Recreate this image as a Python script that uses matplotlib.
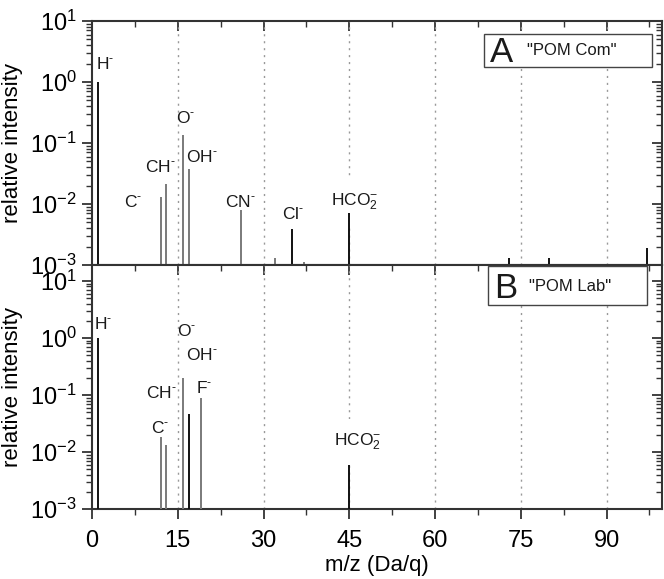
import matplotlib
matplotlib.use("Agg")
import matplotlib.pyplot as plt
from matplotlib.ticker import LogLocator, LogFormatterMathtext, MultipleLocator, NullFormatter
from matplotlib.patches import Rectangle

plt.rcParams['font.family'] = ['Liberation Sans', 'DejaVu Sans']
plt.rcParams['mathtext.default'] = 'regular'
plt.rcParams['mathtext.fontset'] = 'custom'
plt.rcParams['mathtext.rm'] = 'Liberation Sans'

# ---- data ----
com_mz = [1, 12, 13, 16, 17, 26, 32, 35, 37, 45, 73, 80, 97]
com_int = [1.0, 0.013, 0.021, 0.135, 0.037, 0.0079, 0.0013, 0.0039, 0.0011, 0.0071, 0.0013, 0.0013, 0.0019]
com_col = ['k', 'gray', 'gray', 'gray', 'gray', 'gray', 'gray', 'k', 'gray', 'k', 'k', 'k', 'k']

lab_mz = [1, 12, 13, 16, 17, 19, 45]
lab_int = [1.0, 0.018, 0.0135, 0.2, 0.046, 0.087, 0.006]
lab_col = ['k', 'gray', 'gray', 'gray', 'k', 'gray', 'k']

SUP = r'$^{\text{-}}$'
HCO2 = r'HCO$_{2}^{-}$'
com_labels = [('H' + SUP, 0.7, 2.0, 'left'), ('C' + SUP, 7.2, 0.0107, 'center'),
              ('CH' + SUP, 11.9, 0.041, 'center'), ('O' + SUP, 16.3, 0.26, 'center'),
              ('OH' + SUP, 19.3, 0.059, 'center'), ('CN' + SUP, 25.9, 0.0107, 'center'),
              ('Cl' + SUP, 35.2, 0.0069, 'center')]
com_hco2 = (HCO2, 46.0, 0.011)

lab_labels = [('H' + SUP, 0.3, 1.78, 'left'), ('O' + SUP, 16.5, 1.3, 'center'),
              ('OH' + SUP, 19.3, 0.51, 'center'), ('CH' + SUP, 12.1, 0.11, 'center'),
              ('F' + SUP, 19.7, 0.13, 'center'), ('C' + SUP, 11.9, 0.026, 'center')]
lab_hco2 = (HCO2, 46.5, 0.015)

grid_x = [15, 30, 45, 60, 75, 90]
xticks = [0, 15, 30, 45, 60, 75, 90]

W, H = 664, 579
fig = plt.figure(figsize=(W / 100, H / 100), dpi=100)
left = 92 / W
width = (662 - 92) / W
h = 244 / H
ax1 = fig.add_axes([left, 1 - 265 / H, width, h])
ax2 = fig.add_axes([left, 1 - 509 / H, width, h])

spine_col = '#333333'
gray = '#7a7a7a'

def style(ax, ylim, labelx):
    ax.set_yscale('log')
    ax.set_xlim(0, 99.7)
    ax.set_ylim(*ylim)
    for s in ax.spines.values():
        s.set_color(spine_col)
        s.set_linewidth(1.5)
    ax.set_xticks(xticks)
    ax.xaxis.set_minor_locator(MultipleLocator(7.5))
    ax.yaxis.set_major_locator(LogLocator(base=10, numticks=10))
    ax.yaxis.set_major_formatter(LogFormatterMathtext())
    ax.yaxis.set_minor_locator(LogLocator(base=10, subs=range(2, 10), numticks=20))
    ax.yaxis.set_minor_formatter(NullFormatter())
    ax.tick_params(axis='both', which='major', direction='out', length=7, width=1.3,
                   color=spine_col, labelsize=17, pad=4)
    ax.tick_params(axis='both', which='minor', direction='out', length=4, width=1.0,
                   color=spine_col)
    ax.tick_params(axis='x', labelbottom=labelx, pad=8)
    ax.set_ylabel('relative intensity', fontsize=16, labelpad=5)
    sx = ax.secondary_xaxis('top')
    sx.set_xticks(xticks)
    sx.xaxis.set_minor_locator(MultipleLocator(7.5))
    sx.tick_params(which='major', direction='in', length=7, width=1.3, color=spine_col, labeltop=False)
    sx.tick_params(which='minor', direction='in', length=4, width=1.0, color=spine_col)
    sx.spines['top'].set_visible(False)
    sy = ax.secondary_yaxis('right')
    sy.yaxis.set_major_locator(LogLocator(base=10, numticks=10))
    sy.yaxis.set_minor_locator(LogLocator(base=10, subs=range(2, 10), numticks=20))
    sy.yaxis.set_minor_formatter(NullFormatter())
    sy.tick_params(which='major', direction='in', length=7, width=1.3, color=spine_col, labelright=False)
    sy.tick_params(which='minor', direction='in', length=4, width=1.0, color=spine_col)
    sy.spines['right'].set_visible(False)
    for gx in grid_x:
        ax.axvline(gx, color='#999999', linestyle=(0, (1.5, 3.5)), linewidth=1.0, zorder=1)

style(ax1, (1e-3, 10), False)
style(ax2, (1e-3, 10 ** 1.28), True)
ax2.set_xlabel('m/z (Da/q)', fontsize=16, labelpad=2)

for ax, mz, vals, cols in [(ax1, com_mz, com_int, com_col), (ax2, lab_mz, lab_int, lab_col)]:
    colors = ['#111111' if c == 'k' else gray for c in cols]
    ax.vlines(mz, 1e-3, vals, colors=colors, linewidth=1.4, zorder=4)

for ax, labels, hco2 in [(ax1, com_labels, com_hco2), (ax2, lab_labels, lab_hco2)]:
    for t, x, y, ha in labels:
        ax.text(x, y, t, fontsize=12.5, ha=ha, va='center', color='#1a1a1a', zorder=5)
    t, x, y = hco2
    ax.text(x, y, t, fontsize=12.5, ha='center', va='center', color='#1a1a1a', zorder=3,
            bbox=dict(facecolor='white', edgecolor='none', pad=9))

for ax, (x0, y0, x1, y1), letter, lx, ly, name, nx in [
        (ax1, (0.688, 0.811, 0.982, 0.947), 'A', 0.719, 0.872, '"POM Com"', 0.763),
        (ax2, (0.695, 0.836, 0.974, 0.996), 'B', 0.725, 0.905, '"POM Lab"', 0.767)]:
    ax.add_patch(Rectangle((x0, y0), x1 - x0, y1 - y0, transform=ax.transAxes,
                           facecolor='white', edgecolor='#444444', linewidth=1.0, zorder=6))
    ax.text(lx, ly, letter, transform=ax.transAxes, fontsize=25, ha='center', va='center',
            color='#1a1a1a', zorder=7)
    ax.text(nx, ly + 0.008, name, transform=ax.transAxes, fontsize=12, ha='left', va='center',
            color='#1a1a1a', zorder=7)

fig.savefig('out.png', dpi=100)
